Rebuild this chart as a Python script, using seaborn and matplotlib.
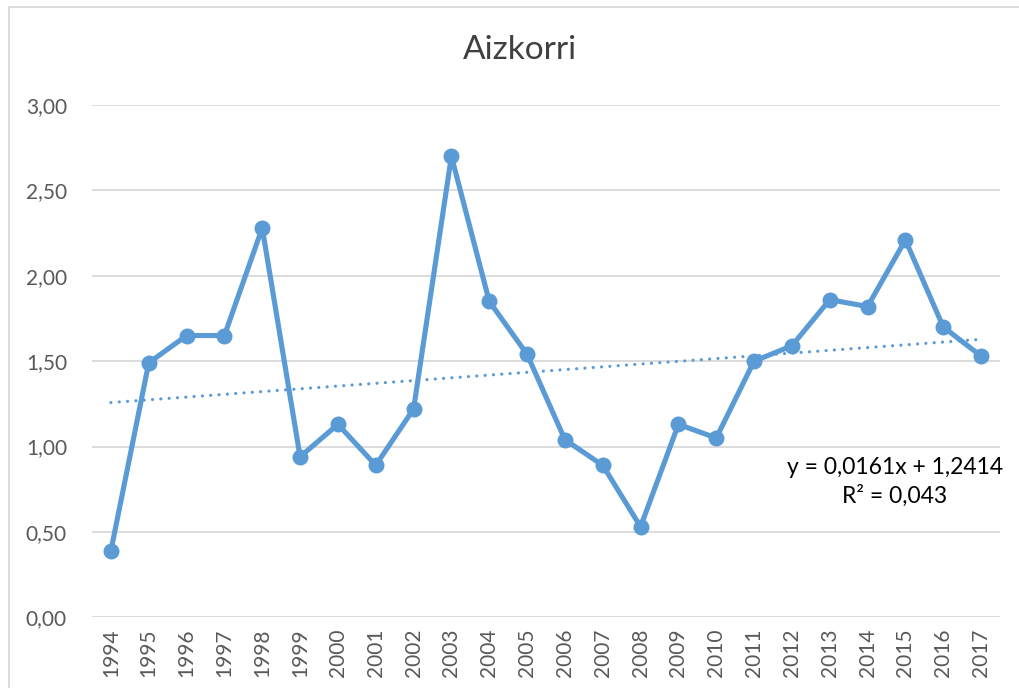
import matplotlib
matplotlib.use("Agg")
import matplotlib.pyplot as plt
import numpy as np
import pandas as pd
import seaborn as sns
from matplotlib.patches import Rectangle

years = [str(y) for y in range(1994, 2018)]
values = [0.39, 1.49, 1.65, 1.65, 2.28, 0.94, 1.13, 0.89, 1.22, 2.70, 1.85, 1.54,
          1.04, 0.89, 0.53, 1.13, 1.05, 1.50, 1.59, 1.86, 1.82, 2.21, 1.70, 1.53]
y_ticks = [0.0, 0.5, 1.0, 1.5, 2.0, 2.5, 3.0]
trend_slope = 0.0161
trend_intercept = 1.2414
trend_r2 = 0.043
title = "Aizkorri"

BLUE = "#5B9BD5"
GRID = "#D9D9D9"
TEXT = "#595959"

sns.set_theme(style="white")
plt.rcParams["font.family"] = ["Lato", "DejaVu Sans"]

df = pd.DataFrame({"pos": np.arange(len(years)), "value": values})
# Excel numbers the trendline x from 1
df["trend"] = trend_slope * (df["pos"] + 1) + trend_intercept

fig = plt.figure(figsize=(10.19, 6.88), dpi=100)
ax = fig.add_axes([92 / 1019, 1 - 617.3 / 688, (1000 - 92) / 1019, (617.3 - 105) / 688])

sns.lineplot(data=df, x="pos", y="trend", ax=ax, color=BLUE, linewidth=2.3,
             linestyle=(0, (0.01, 2.6)), dash_capstyle="round", zorder=2)
sns.lineplot(data=df, x="pos", y="value", ax=ax, color=BLUE, linewidth=3.7,
             marker="o", markersize=11.5, markeredgewidth=0, zorder=3)

ax.set_xlim(-0.5, len(years) - 0.5)
ax.set_ylim(0, 3)
ax.set_xticks(df["pos"])
ax.set_xticklabels(years, rotation=90, fontsize=15, color=TEXT)
ax.set_yticks(y_ticks)
ax.set_yticklabels([f"{v:.2f}".replace(".", ",") for v in y_ticks], fontsize=15, color=TEXT)
ax.tick_params(axis="both", length=0)
ax.tick_params(axis="y", pad=18)
ax.tick_params(axis="x", pad=8)
ax.set_xlabel("")
ax.set_ylabel("")
for s in ax.spines.values():
    s.set_visible(False)
ax.grid(axis="y", color=GRID, linewidth=1.3)
ax.set_axisbelow(True)

fig.text(520 / 1019, 1 - 50 / 688, title, ha="center", va="center", fontsize=24, color="#404040")

eq = (f"y = {trend_slope:.4f}x + {trend_intercept:.4f}".replace(".", ",")
      + "\n" + f"R² = {trend_r2:.3f}".replace(".", ","))
ax.text(895 / 1019, 1 - 482 / 688, eq, transform=fig.transFigure, ha="center", va="center",
        fontsize=16.5, color="black", linespacing=1.4)

fig.patches.append(Rectangle((9 / 1019, -0.1), 1.2, 1 - 7 / 688 + 0.1, transform=fig.transFigure,
                             fill=False, edgecolor=GRID, linewidth=1.3))

fig.savefig("out.png", dpi=100)
